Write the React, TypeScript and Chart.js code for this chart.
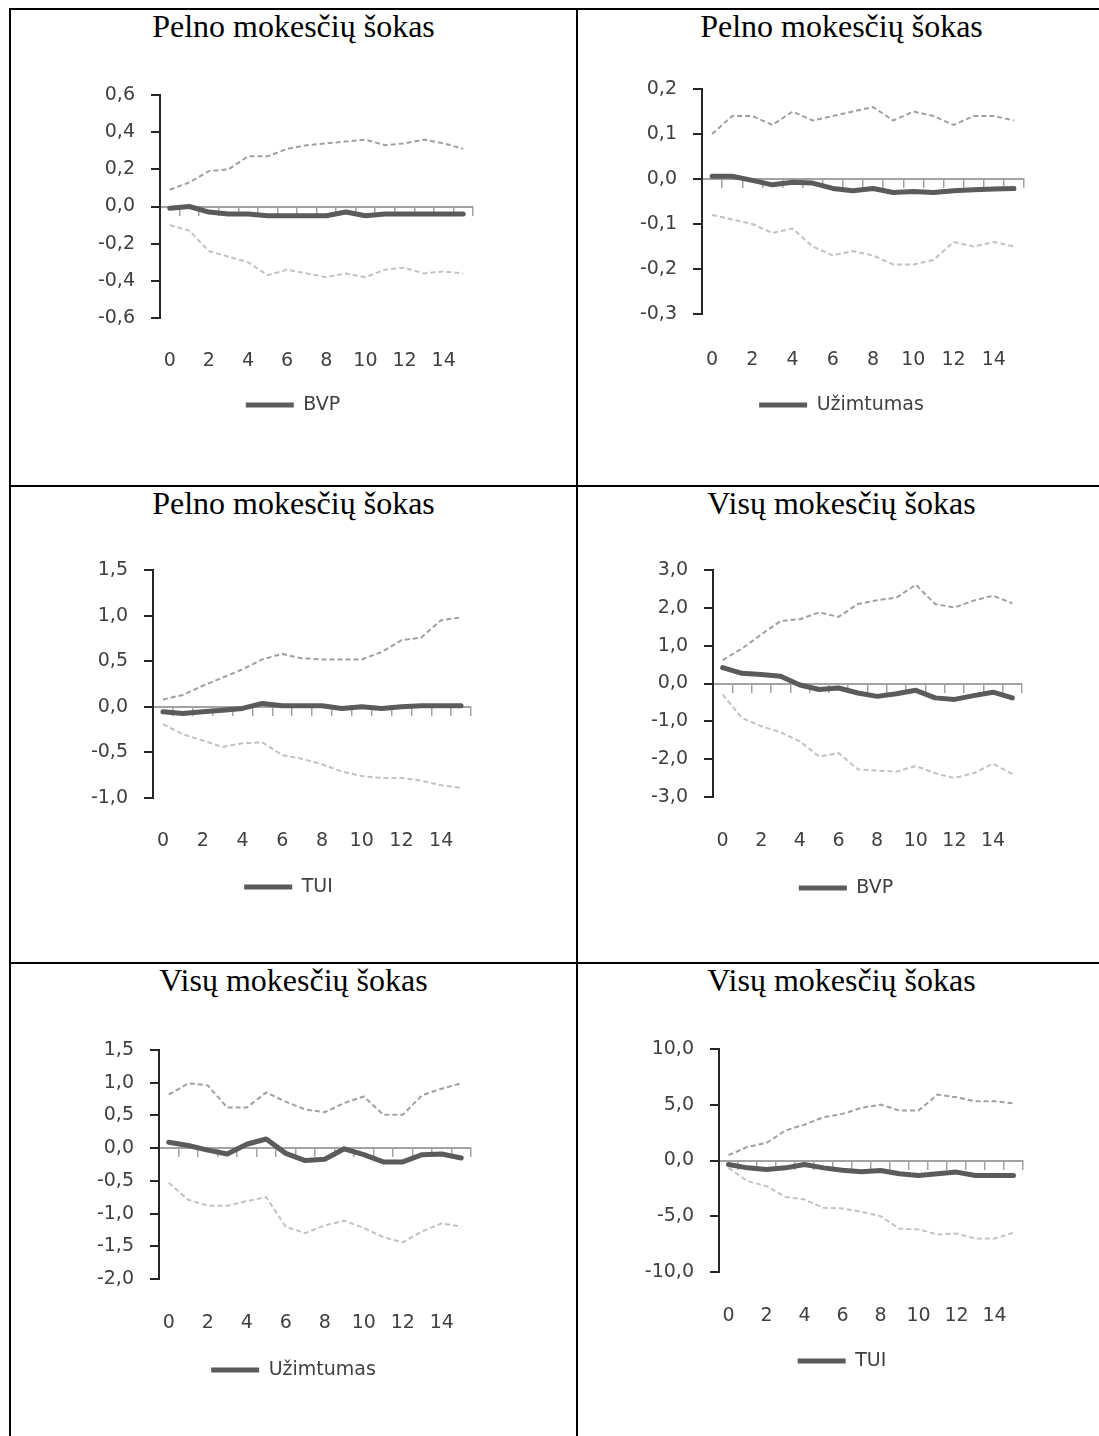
import React, { useEffect, useRef } from 'react';
import { Chart, registerables } from 'chart.js';

Chart.register(...registerables);

// ---------- data ----------
const horizons = ['0', '1', '2', '3', '4', '5', '6', '7', '8', '9', '10', '11', '12', '13', '14', '15'];

const pelnoBvpMain = [-0.01, 0.0, -0.03, -0.04, -0.04, -0.05, -0.05, -0.05, -0.05, -0.03, -0.05, -0.04, -0.04, -0.04, -0.04, -0.04];
const pelnoBvpUpper = [0.09, 0.13, 0.19, 0.2, 0.27, 0.27, 0.31, 0.33, 0.34, 0.35, 0.36, 0.33, 0.34, 0.36, 0.34, 0.31];
const pelnoBvpLower = [-0.1, -0.13, -0.24, -0.27, -0.3, -0.37, -0.34, -0.36, -0.38, -0.36, -0.38, -0.34, -0.33, -0.36, -0.35, -0.36];

const pelnoUzimMain = [0.006, 0.006, -0.003, -0.013, -0.007, -0.009, -0.021, -0.026, -0.021, -0.03, -0.028, -0.03, -0.026, -0.024, -0.022, -0.021];
const pelnoUzimUpper = [0.1, 0.14, 0.14, 0.12, 0.15, 0.13, 0.14, 0.15, 0.16, 0.13, 0.15, 0.14, 0.12, 0.14, 0.14, 0.13];
const pelnoUzimLower = [-0.08, -0.09, -0.1, -0.12, -0.11, -0.15, -0.17, -0.16, -0.17, -0.19, -0.19, -0.18, -0.14, -0.15, -0.14, -0.15];

const pelnoTuiMain = [-0.055, -0.073, -0.055, -0.037, -0.018, 0.037, 0.011, 0.011, 0.011, -0.018, 0.0, -0.018, 0.0, 0.011, 0.011, 0.011];
const pelnoTuiUpper = [0.08, 0.13, 0.23, 0.32, 0.41, 0.52, 0.58, 0.53, 0.52, 0.52, 0.52, 0.6, 0.73, 0.76, 0.95, 0.98];
const pelnoTuiLower = [-0.19, -0.3, -0.37, -0.44, -0.4, -0.39, -0.53, -0.57, -0.63, -0.71, -0.76, -0.78, -0.78, -0.81, -0.86, -0.89];

const visuBvpMain = [0.42, 0.27, 0.24, 0.19, -0.04, -0.16, -0.12, -0.25, -0.34, -0.27, -0.18, -0.38, -0.42, -0.32, -0.23, -0.38];
const visuBvpUpper = [0.62, 0.92, 1.3, 1.65, 1.7, 1.88, 1.76, 2.1, 2.2, 2.27, 2.61, 2.1, 2.01, 2.19, 2.32, 2.12];
const visuBvpLower = [-0.29, -0.91, -1.13, -1.29, -1.53, -1.93, -1.84, -2.27, -2.3, -2.33, -2.18, -2.37, -2.5, -2.37, -2.12, -2.39];

const visuUzimMain = [0.09, 0.04, -0.03, -0.09, 0.06, 0.14, -0.08, -0.19, -0.17, -0.01, -0.1, -0.21, -0.21, -0.1, -0.09, -0.15];
const visuUzimUpper = [0.82, 0.99, 0.96, 0.62, 0.62, 0.85, 0.71, 0.59, 0.55, 0.69, 0.79, 0.51, 0.51, 0.81, 0.91, 0.99];
const visuUzimLower = [-0.53, -0.79, -0.88, -0.88, -0.81, -0.75, -1.2, -1.3, -1.18, -1.11, -1.22, -1.36, -1.44, -1.27, -1.15, -1.2];

const visuTuiMain = [-0.36, -0.66, -0.81, -0.66, -0.36, -0.66, -0.87, -1.01, -0.9, -1.19, -1.34, -1.19, -1.04, -1.34, -1.34, -1.34];
const visuTuiUpper = [0.48, 1.22, 1.58, 2.69, 3.22, 3.88, 4.18, 4.72, 5.01, 4.48, 4.48, 5.91, 5.67, 5.31, 5.31, 5.13];
const visuTuiLower = [-0.66, -1.85, -2.3, -3.28, -3.49, -4.24, -4.3, -4.6, -4.99, -6.12, -6.18, -6.63, -6.54, -7.01, -6.99, -6.48];

const titlePelno = 'Pelno mokesčių šokas';
const titleVisu = 'Visų mokesčių šokas';

// y-axis ranges: [min, max, step]
const rangePelnoBvp = [-0.6, 0.6, 0.2];
const rangePelnoUzim = [-0.3, 0.2, 0.1];
const rangePelnoTui = [-1.0, 1.5, 0.5];
const rangeVisuBvp = [-3, 3, 1];
const rangeVisuUzim = [-2.0, 1.5, 0.5];
const rangeVisuTui = [-10, 10, 5];

// ---------- styles / layout ----------
const FONT = 19;
const FAMILY = '"DejaVu Sans", "Noto Sans", sans-serif';
const TEXT = '#404040';
const MAIN = '#5b5b5b';
const UPPER = '#a0a0a0';
const LOWER = '#c2c2c2';
const AXIS_DARK = '#262626';
const AXIS_GREY = '#a3a3a3';
const LEG_PAD = 10;
const YAXIS_W = 95;

const fmt = (v: number) => {
  const n = Math.abs(Number(v)) < 1e-9 ? 0 : Number(v);
  return n.toFixed(1).replace('.', ',');
};

type Geom = { x: number; y: number; w: number; h: number; L: number; R: number; T: number; B: number; xLab: number; leg: number; legC: number };

const panels = [
  { title: titlePelno, legend: 'BVP', main: pelnoBvpMain, upper: pelnoBvpUpper, lower: pelnoBvpLower, range: rangePelnoBvp,
    g: { x: 11, y: 10, w: 565, h: 475, L: 160, R: 473, T: 95, B: 318, xLab: 353, leg: 405, legC: 293 } },
  { title: titlePelno, legend: 'Užimtumas', main: pelnoUzimMain, upper: pelnoUzimUpper, lower: pelnoUzimLower, range: rangePelnoUzim,
    g: { x: 578, y: 10, w: 521, h: 475, L: 702, R: 1024, T: 89, B: 314, xLab: 352, leg: 405, legC: 841.5 } },
  { title: titlePelno, legend: 'TUI', main: pelnoTuiMain, upper: pelnoTuiUpper, lower: pelnoTuiLower, range: rangePelnoTui,
    g: { x: 11, y: 487, w: 565, h: 475, L: 153, R: 471, T: 570, B: 798, xLab: 833, leg: 887, legC: 288.5 } },
  { title: titleVisu, legend: 'BVP', main: visuBvpMain, upper: visuBvpUpper, lower: visuBvpLower, range: rangeVisuBvp,
    g: { x: 578, y: 487, w: 521, h: 475, L: 713, R: 1022, T: 570, B: 797, xLab: 833, leg: 888, legC: 846 } },
  { title: titleVisu, legend: 'Užimtumas', main: visuUzimMain, upper: visuUzimUpper, lower: visuUzimLower, range: rangeVisuUzim,
    g: { x: 11, y: 964, w: 565, h: 472, L: 159, R: 471, T: 1050, B: 1279, xLab: 1315, leg: 1370, legC: 293.5 } },
  { title: titleVisu, legend: 'TUI', main: visuTuiMain, upper: visuTuiUpper, lower: visuTuiLower, range: rangeVisuTui,
    g: { x: 578, y: 964, w: 521, h: 472, L: 719, R: 1023, T: 1049, B: 1272, xLab: 1308, leg: 1361, legC: 842 } },
];

function ChartPanel({ p }: { p: any }) {
  const ref = useRef<HTMLCanvasElement>(null);
  useEffect(() => {
    if (!ref.current) return;
    const g: Geom = p.g;
    const W = YAXIS_W;
    const W2 = Math.max(0, 2 * g.legC - g.L - g.R + W);
    const padLeft = g.L - g.x - W;
    const padRight = g.x + g.w - g.R - W2;
    const padTop = g.T - g.y;
    const legTop = g.leg - LEG_PAD - FONT / 2;
    const xAxisH = legTop - g.B;
    const legH = FONT + LEG_PAD + 10;
    const padBottom = g.y + g.h - (legTop + legH);
    const tickPad = g.xLab - g.B - (FONT * 1.2) / 2;
    const font = { family: FAMILY, size: FONT };

    const chart = new Chart(ref.current, {
      type: 'line',
      data: {
        labels: horizons,
        datasets: [
          { label: p.legend, data: p.main, borderColor: MAIN, backgroundColor: MAIN, borderWidth: 5, pointRadius: 0,
            pointStyle: 'line', borderCapStyle: 'round', borderJoinStyle: 'round', tension: 0, fill: false },
          { label: 'upper', data: p.upper, borderColor: UPPER, borderWidth: 2, borderDash: [5, 3], pointRadius: 0, tension: 0, fill: false },
          { label: 'lower', data: p.lower, borderColor: LOWER, borderWidth: 2, borderDash: [5, 3], pointRadius: 0, tension: 0, fill: false },
        ],
      },
      options: {
        responsive: false,
        animation: false,
        devicePixelRatio: 1,
        layout: { padding: { left: padLeft, right: padRight, top: padTop, bottom: padBottom }, autoPadding: false },
        plugins: {
          title: { display: false },
          tooltip: { enabled: false },
          legend: {
            display: true,
            position: 'bottom',
            align: 'center',
            labels: {
              usePointStyle: true,
              pointStyle: 'line',
              pointStyleWidth: 48,
              padding: LEG_PAD,
              color: TEXT,
              font,
              filter: (it: any) => it.datasetIndex === 0,
            },
          },
        },
        scales: {
          x: {
            type: 'category',
            position: 'bottom',
            offset: true,
            grid: { display: false },
            border: { display: false },
            ticks: {
              autoSkip: false,
              maxRotation: 0,
              minRotation: 0,
              padding: tickPad,
              color: TEXT,
              font,
              callback: (_v: any, i: number) => (i % 2 === 0 ? horizons[i] : ''),
            },
            afterFit: (s: any) => { s.height = xAxisH; },
          },
          x2: {
            type: 'category',
            axis: 'x',
            position: { y: 0 },
            offset: true,
            grid: { display: true, offset: true, drawOnChartArea: false, drawTicks: true, tickLength: 8, color: AXIS_GREY, lineWidth: 1.5 },
            border: { display: true, color: AXIS_GREY, width: 2 },
            ticks: { display: false, autoSkip: false },
          },
          y: {
            type: 'linear',
            position: 'left',
            min: p.range[0],
            max: p.range[1],
            ticks: { stepSize: p.range[2], padding: 16, color: TEXT, font, callback: (v: any) => fmt(v) },
            grid: { drawOnChartArea: false, drawTicks: true, tickLength: 9, color: AXIS_DARK, lineWidth: 2 },
            border: { display: true, color: AXIS_DARK, width: 2 },
            afterFit: (s: any) => { s.width = W; },
          },
          ySpacer: {
            type: 'linear',
            axis: 'y',
            position: 'right',
            display: true,
            grid: { display: false },
            border: { display: false },
            ticks: { display: false },
            afterFit: (s: any) => { s.width = W2; },
          },
        },
      } as any,
    });
    return () => chart.destroy();
  }, [p]);

  const g: Geom = p.g;
  return (
    <canvas
      ref={ref}
      width={g.w}
      height={g.h}
      style={{ position: 'absolute', left: g.x, top: g.y, width: g.w, height: g.h }}
    />
  );
}

const border = (left: number, top: number, width: number, height: number) => (
  <div style={{ position: 'absolute', left, top, width, height, background: '#000' }} />
);

const titleCells = [
  { x: 11, w: 565, baseline: 37 },
  { x: 578, w: 527, baseline: 37 },
  { x: 11, w: 565, baseline: 514 },
  { x: 578, w: 527, baseline: 514 },
  { x: 11, w: 565, baseline: 991 },
  { x: 578, w: 527, baseline: 991 },
];

export default function App() {
  return (
    <div style={{ position: 'fixed', left: 0, top: 0, width: 1099, height: 1436, overflow: 'hidden', background: '#fff' }}>
      {border(9, 8, 1098, 2)}
      {border(9, 8, 2, 1440)}
      {border(576, 8, 2, 1440)}
      {border(1105, 8, 2, 1440)}
      {border(9, 485, 1098, 2)}
      {border(9, 962, 1098, 2)}
      {panels.map((p, i) => (
        <div
          key={'t' + i}
          style={{
            position: 'absolute',
            left: titleCells[i].x,
            width: titleCells[i].w,
            top: titleCells[i].baseline - 27,
            textAlign: 'center',
            fontFamily: '"Liberation Serif", "Times New Roman", serif',
            fontSize: 32,
            lineHeight: '32px',
            color: '#000',
            whiteSpace: 'nowrap',
          }}
        >
          {p.title}
        </div>
      ))}
      {panels.map((p, i) => (
        <ChartPanel key={'c' + i} p={p} />
      ))}
    </div>
  );
}
